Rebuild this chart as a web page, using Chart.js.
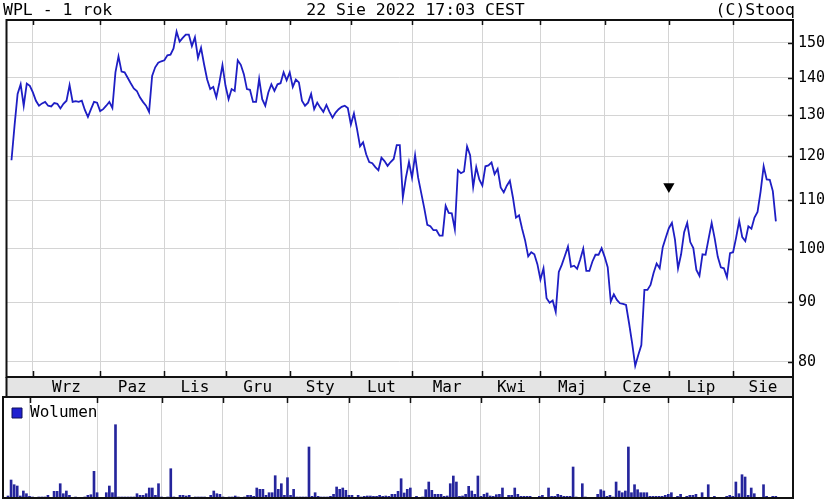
<!DOCTYPE html>
<html><head><meta charset="utf-8">
<script src="https://cdn.jsdelivr.net/npm/chart.js@4.4.0/dist/chart.umd.min.js"></script>
<style>
html,body{margin:0;padding:0;background:#fff;width:833px;height:503px;overflow:hidden;}
#wrap{position:relative;width:833px;height:503px;}
canvas{position:absolute;left:0;}
#c1{top:0;} #c2{top:396px;}
.hdr{position:absolute;top:0;font-family:'DejaVu Sans Mono',monospace;font-size:16.5px;color:#000;line-height:19px;white-space:pre;z-index:2;}
</style></head><body>
<div id="wrap">
<canvas id="c1" width="833" height="397"></canvas>
<canvas id="c2" width="833" height="107"></canvas>
<div class="hdr" style="left:3px">WPL - 1 rok</div>
<div class="hdr" style="left:0;width:831px;text-align:center">22 Sie 2022 17:03 CEST</div>
<div class="hdr" style="right:38px">(C)Stooq</div>
</div>
<script>
// ---- data ----
const prices = [
119,127.4,135.6,138.2,132.5,138.4,137.8,136,133.8,132.5,
133.1,133.5,132.5,132.3,133.2,133,131.8,133,133.8,138,
133.5,133.7,133.5,133.8,131.4,129.6,131.6,133.5,133.3,131.1,
131.6,132.5,133.5,131.9,141.5,146,141.7,141.5,140,138.5,
137.1,136.4,134.7,133.5,132.5,130.9,140.5,142.9,144.2,144.6,
144.9,146.3,146.5,148.3,153.3,150.3,151.4,152.4,152.4,149,
151.6,145.6,148.5,143.7,139.5,136.9,137.5,134.7,138.7,143.5,
137.8,134.2,136.9,136.4,144.9,143.6,141,136.9,136.7,133.5,
133.5,139.7,134.2,132.5,136,138.2,136.4,138.2,138.5,141.5,
139.3,141.5,137.5,139.5,138.7,133.8,132.5,133.3,135.6,131.6,
133.3,132,130.9,132.7,130.9,129.4,130.7,131.6,132.2,132.5,
131.9,127.7,130.5,126.6,122.3,123.3,120.4,118.6,118.3,117.4,
116.7,119.6,118.8,117.7,118.6,119.3,122.6,122.6,110.6,115,
118.6,115,120.2,115,111.6,108.3,104.8,104.5,103.7,103.7,
102.6,102.6,108.8,107.3,107.2,103.9,116.7,116,116.4,122.3,
120.2,112.9,117.4,114.6,113.2,117.6,117.8,118.5,115.8,117,
112.8,111.7,113.2,114.3,110.6,106.3,106.8,104,101.6,98.5,
99.3,98.9,97,94.1,96.2,90.7,89.9,90.3,88.3,95.5,
96.9,98.6,100.4,96.5,96.7,96.1,97.9,100,95.7,95.7,
97.5,98.8,98.8,100.1,98.4,96.4,90.1,91.4,90.4,89.8,
89.7,89.5,86.3,83,79.4,81.1,82.7,92.2,92.2,93.1,
95.3,97.1,96.2,100.3,102.2,104.1,105.2,101.8,96.2,98.9,
103.3,105.2,101.3,100.1,95.9,94.8,98.9,98.8,102,105.2,
102,98.4,96.4,96.2,94.5,99.1,99.3,102.2,105.6,102.3,
101.5,104.5,104,106.3,107.5,111.9,117.6,114.6,114.5,112,105.5
];
const volumes = [
2,18,13.3,12,2,7,4.3,1.7,1,0.5,
1,1,1,2.7,0.5,6.7,6.7,14.3,4.3,7,
2.7,0.5,1,0.5,0.5,1,2.7,3.3,26.7,5.3,
0.5,0.5,5.3,12,5.3,73.3,1,1,1,1,
1,1,4.3,2.7,2.7,4.3,10,10,2.7,14.3,
1,0.5,1,29.3,1,0.5,2.7,2.7,2,2.7,
0.5,1,1,1,1,0.5,2.7,7,4.3,3.7,
1,0.5,1,1,2,1,0.5,1,2.7,2.7,
1.7,10,8.7,8.7,2.7,5.3,5.3,22.3,8.7,14.3,
2.7,20.3,2.7,8.7,1,1,1,1,51,1.7,
5.3,1.7,1,1,1,1.7,3.7,11,8.7,10,
7.7,2.7,2.7,0.5,2.7,1,1.7,2,2,1.7,
1.7,2.7,1.7,2,1.7,3.7,3.7,6.7,19.3,5,
8.7,10,0.5,1.7,0.5,1,8.3,16,7.7,3.7,
3.7,3.7,1.7,2,14.3,22,16,1.7,2,3.7,
11.7,7,3.7,22,1.7,3.7,5,2,1.7,3.3,
3.7,10,0.5,2.7,2.7,10,3.7,1.7,1.7,1.7,
1.7,0.5,0.5,1.7,2.7,0.5,10,1.7,1.7,3.7,
2.7,1.7,1.7,1.7,31,1,0.5,14.3,1,0.5,
0.5,0.5,3.7,8.3,7,1.7,2.7,1,16,7,
5.3,7,51,5.3,13.3,8.3,5.3,5.3,5.3,1.7,
1.7,1.7,1.7,1.7,2.7,3.7,5.3,0.5,1.7,3.7,
0.5,1.7,2.7,2.7,3.7,0.5,5.3,0.5,13.3,0.5,
1.7,0.5,0.5,0.5,1.7,2.7,1.7,16,4.3,23.3,
21,2.7,10,4.3,0.5,0.5,13.3,1.7,0.5,1.7,1.7
];
const monthLabels = ['Wrz','Paz','Lis','Gru','Sty','Lut','Mar','Kwi','Maj','Cze','Lip','Sie'];
const monthStarts = [7,29,50,70,91,111,131,154,173,194,215,236];
const priceTicks = [80,90,100,110,120,130,140,150];
const markerIndex = [215];
const markerValue = [113];

// ---- layout constants ----
const X_MIN = -1.63, X_MAX = 255.6;
const Y_MIN = 77.67, Y_MAX = 156.85;
const monthMids = monthStarts.map((s,k)=> (s + (k+1 < monthStarts.length ? monthStarts[k+1] : X_MAX)) / 2);

Chart.defaults.font.family = "'DejaVu Sans Mono', monospace";
Chart.defaults.font.size = 16;
Chart.defaults.color = '#000';
Chart.defaults.animation = false;

const GRID = '#d4d4d4';

const priceFrame = {
  id: 'priceFrame',
  beforeDraw(chart) {
    const {ctx, chartArea: a} = chart;
    ctx.save();
    ctx.fillStyle = '#e4e4e4';
    ctx.fillRect(a.left, a.bottom, a.right - a.left, chart.height - a.bottom);
    ctx.restore();
  },
  afterDraw(chart) {
    const {ctx, chartArea: a, scales} = chart;
    ctx.save();
    ctx.strokeStyle = '#111';
    ctx.lineWidth = 2;
    ctx.strokeRect(a.left, a.top, a.right - a.left, a.bottom - a.top);
    ctx.beginPath();
    ctx.moveTo(a.left, a.bottom); ctx.lineTo(a.left, chart.height);
    ctx.moveTo(a.right, a.bottom); ctx.lineTo(a.right, chart.height);
    ctx.stroke();
    ctx.lineWidth = 1.5;
    ctx.beginPath();
    monthStarts.forEach(m => {
      const px = Math.round(scales.x.getPixelForValue(m)) + 0.5;
      ctx.moveTo(px, a.top); ctx.lineTo(px, a.top + 5);
      ctx.moveTo(px, a.bottom); ctx.lineTo(px, a.bottom - 6);
    });
    priceTicks.forEach(v => {
      const py = Math.round(scales.y.getPixelForValue(v)) + 0.5;
      ctx.moveTo(a.right - 5, py); ctx.lineTo(a.right, py);
    });
    ctx.stroke();
    ctx.restore();
  }
};

const volFrame = {
  id: 'volFrame',
  afterDraw(chart) {
    const {ctx, chartArea: a, scales} = chart;
    ctx.save();
    ctx.strokeStyle = '#111';
    ctx.lineWidth = 2;
    ctx.strokeRect(a.left, a.top, a.right - a.left, a.bottom - a.top);
    ctx.lineWidth = 1.5;
    ctx.beginPath();
    monthStarts.forEach(m => {
      const px = Math.round(scales.x.getPixelForValue(m)) + 0.5;
      ctx.moveTo(px, a.top); ctx.lineTo(px, a.top + 6);
    });
    ctx.stroke();
    ctx.restore();
  }
};

new Chart(document.getElementById('c1'), {
  type: 'line',
  data: {
    datasets: [
      {
        data: prices.map((v, i) => ({x: i, y: v})),
        borderColor: '#1e1ec4',
        borderWidth: 1.8,
        pointRadius: 0,
        tension: 0,
        fill: false
      },
      {
        data: markerIndex.map((v, k) => ({x: v, y: markerValue[k]})),
        showLine: false,
        pointStyle: 'triangle',
        rotation: 180,
        pointRadius: 6.5,
        backgroundColor: '#000',
        borderColor: '#000',
        borderWidth: 0
      }
    ]
  },
  options: {
    responsive: false,
    devicePixelRatio: 1,
    events: [],
    layout: {padding: {left: 3, top: 20, right: 0, bottom: 0}},
    plugins: {legend: {display: false}, tooltip: {enabled: false}},
    scales: {
      x: {
        type: 'linear', min: X_MIN, max: X_MAX, position: 'bottom', offset: false,
        afterBuildTicks: s => { s.ticks = monthStarts.map(v => ({value: v})); },
        ticks: {display: false},
        grid: {color: GRID, drawTicks: false, lineWidth: 1},
        border: {display: false},
        afterFit: s => { s.height = 0; }
      },
      xm: {
        type: 'linear', min: X_MIN, max: X_MAX, position: 'bottom', offset: false,
        afterBuildTicks: s => { s.ticks = monthMids.map(v => ({value: v})); },
        ticks: {autoSkip: false, maxRotation: 0, padding: 1, callback: (v, i) => monthLabels[i], font: {size: 16}},
        grid: {display: false, drawTicks: false},
        border: {display: false},
        afterFit: s => { s.height = 20; }
      },
      y: {
        type: 'logarithmic', position: 'right', min: Y_MIN, max: Y_MAX,
        afterBuildTicks: s => { s.ticks = priceTicks.map(v => ({value: v})); },
        ticks: {autoSkip: false, padding: 5, callback: v => String(v), font: {size: 15}},
        grid: {color: GRID, drawTicks: false, lineWidth: 1},
        border: {display: false},
        afterFit: s => { s.width = 40; }
      }
    }
  },
  plugins: [priceFrame]
});

new Chart(document.getElementById('c2'), {
  type: 'bar',
  data: {
    datasets: [{
      label: 'Wolumen',
      data: volumes.map((v, i) => ({x: i, y: v})),
      backgroundColor: '#25259c',
      barThickness: 2
    }]
  },
  options: {
    responsive: false,
    devicePixelRatio: 1,
    events: [],
    layout: {padding: {left: 3, top: 1, right: 40, bottom: 5}},
    plugins: {
      tooltip: {enabled: false},
      legend: {
        position: 'chartArea', align: 'start',
        labels: {
          boxWidth: 10, boxHeight: 10, padding: 9,
          font: {size: 16},
          generateLabels: () => [{text: 'Wolumen', fillStyle: '#1f1fd0', strokeStyle: '#10105a', lineWidth: 1, hidden: false, datasetIndex: 0}]
        }
      }
    },
    scales: {
      x: {
        type: 'linear', min: X_MIN, max: X_MAX, offset: false,
        afterBuildTicks: s => { s.ticks = monthStarts.map(v => ({value: v})); },
        ticks: {display: false},
        grid: {color: GRID, drawTicks: false, offset: false},
        border: {display: false},
        afterFit: s => { s.height = 0; }
      },
      y: {
        display: false, min: 0, max: 101
      }
    }
  },
  plugins: [volFrame]
});
</script>
</body></html>
